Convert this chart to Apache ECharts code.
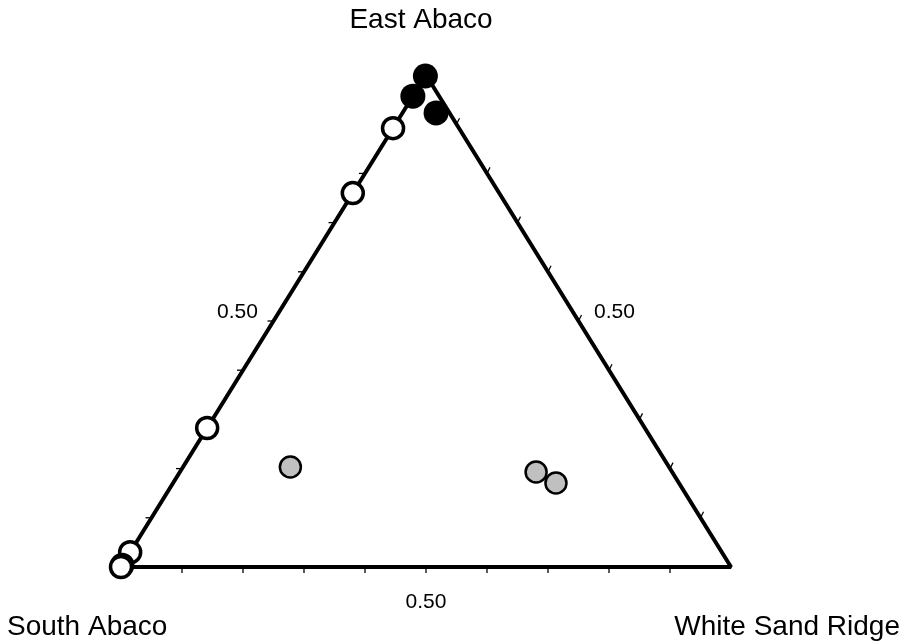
<!DOCTYPE html>
<html>
<head>
<meta charset="utf-8">
<script src="https://cdn.jsdelivr.net/npm/echarts@6/dist/echarts.min.js"></script>
<style>
html,body{margin:0;padding:0;background:#fff;}
#chart{width:909px;height:644px;}
</style>
</head>
<body>
<div id="chart"></div>
<script>
// Vertex names (top, bottom-left, bottom-right)
const vertexNames = ['East Abaco', 'South Abaco', 'White Sand Ridge'];
// Ternary compositions: [East Abaco, South Abaco, White Sand Ridge]
const blackGroup = [[0.998, 0.002, 0.0], [0.957, 0.043, 0.0], [0.923, 0.022, 0.055]];
const openGroup = [[0.892, 0.108, 0.0], [0.76, 0.24, 0.0], [0.2825, 0.7175, 0.0], [0.03, 0.97, 0.0], [0.004, 0.996, 0.0], [0.0, 1.0, 0.0]];
const grayGroup = [[0.2033, 0.6207, 0.176], [0.193, 0.223, 0.584], [0.1707, 0.2016, 0.6277]];
// Tick values along each side and the labelled value
const tickValues = [0.1, 0.2, 0.3, 0.4, 0.5, 0.6, 0.7, 0.8, 0.9];
const tickLabelValue = 0.5;
const tickLabelText = '0.50';

// ternary -> cartesian data coordinates (x in 0..1, y in 0..1)
function toXY(t) {
  const e = t[0], w = t[2];
  return [w + e / 2, e];
}
const triangle = [[0, 0], [1, 0], [0.5, 1], [0, 0]];

// tick records: [x, y, side]
const ticks = [];
tickValues.forEach(v => {
  ticks.push([v, 0, 0]);            // bottom side
  ticks.push([v / 2, v, 1]);        // left side
  ticks.push([1 - v / 2, v, 2]);    // right side
});
const tickLabels = [
  [tickLabelValue, 0, 0, tickLabelText],
  [tickLabelValue / 2, tickLabelValue, 1, tickLabelText],
  [1 - tickLabelValue / 2, tickLabelValue, 2, tickLabelText]
];

const tickDir = [[0, 6], [-6, 0], [3, -6]];
const labelOff = [[0, 35], [-36, -9], [36, -9]];
const FONT = '"Liberation Sans", Arial, sans-serif';

const chart = echarts.init(document.getElementById('chart'));
chart.setOption({
  animation: false,
  backgroundColor: '#fff',
  grid: { left: 121, right: 178, top: 75, bottom: 77 },
  xAxis: { type: 'value', min: 0, max: 1, show: false },
  yAxis: { type: 'value', min: 0, max: 1, show: false },
  graphic: [
    { type: 'text', x: 421, y: 20, style: { text: vertexNames[0], font: '28px ' + FONT, fill: '#000', align: 'center', verticalAlign: 'middle' } },
    { type: 'text', x: 7, y: 627, style: { text: vertexNames[1], font: '28px ' + FONT, fill: '#000', align: 'left', verticalAlign: 'middle' } },
    { type: 'text', x: 900, y: 627, style: { text: vertexNames[2], font: '28px ' + FONT, fill: '#000', align: 'right', verticalAlign: 'middle' } }
  ],
  series: [
    {
      type: 'line', data: triangle, symbol: 'none', z: 2,
      lineStyle: { color: '#000', width: 4 }
    },
    {
      type: 'custom', data: ticks, z: 2,
      renderItem: function (params, api) {
        const p = api.coord([api.value(0), api.value(1)]);
        const d = tickDir[api.value(2)];
        return { type: 'line', shape: { x1: p[0], y1: p[1], x2: p[0] + d[0], y2: p[1] + d[1] }, style: { stroke: '#000', lineWidth: 1.3 } };
      }
    },
    {
      type: 'custom', data: tickLabels, z: 3,
      renderItem: function (params, api) {
        const p = api.coord([api.value(0), api.value(1)]);
        const o = labelOff[api.value(2)];
        return { type: 'text', x: p[0] + o[0], y: p[1] + o[1], style: { text: tickLabels[params.dataIndex][3], font: '21px ' + FONT, fill: '#000', align: 'center', verticalAlign: 'middle' } };
      }
    },
    {
      type: 'scatter', z: 5, data: openGroup.map(toXY), symbol: 'circle', symbolSize: 21,
      itemStyle: { color: '#fff', borderColor: '#000', borderWidth: 3.5, opacity: 1 }
    },
    {
      type: 'scatter', z: 6, data: blackGroup.map(toXY), symbol: 'circle', symbolSize: 25,
      itemStyle: { color: '#000', opacity: 1 }
    },
    {
      type: 'scatter', z: 5, data: grayGroup.map(toXY), symbol: 'circle', symbolSize: 21,
      itemStyle: { color: '#c0c0c0', borderColor: '#000', borderWidth: 2.5, opacity: 1 }
    }
  ]
});
</script>
</body>
</html>
